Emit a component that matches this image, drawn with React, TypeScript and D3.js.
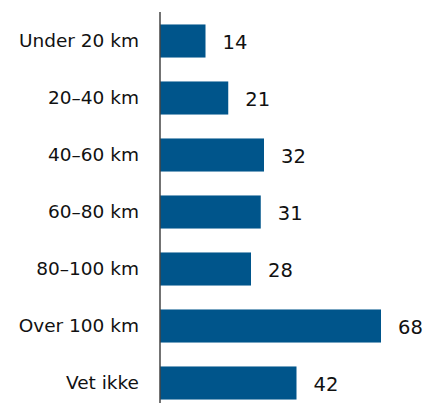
import { useRef, useEffect } from 'react';
import * as d3 from 'd3';

const categories = ['Under 20 km', '20–40 km', '40–60 km', '60–80 km', '80–100 km', 'Over 100 km', 'Vet ikke'];
const values = [14, 21, 32, 31, 28, 68, 42];

const W = 425;
const H = 403;

const App = () => {
  const ref = useRef<SVGSVGElement>(null);

  useEffect(() => {
    const svg = d3.select(ref.current);
    svg.selectAll('*').remove();

    const x0 = 160;
    const x = d3.scaleLinear().domain([0, 68]).range([x0, 381]);
    const y = d3.scaleBand<string>()
      .domain(categories)
      .range([12.5, 411.5])
      .paddingInner(0.42)
      .paddingOuter(0.21);

    const rows = categories.map((c, i) => ({ c, v: values[i] }));

    svg.append('g')
      .selectAll('rect')
      .data(rows)
      .enter()
      .append('rect')
      .attr('x', x0)
      .attr('y', d => y(d.c)!)
      .attr('width', d => x(d.v) - x0)
      .attr('height', y.bandwidth())
      .attr('fill', '#00558b');

    svg.append('line')
      .attr('x1', x0).attr('x2', x0)
      .attr('y1', 12).attr('y2', H)
      .attr('stroke', '#444')
      .attr('stroke-width', 1.5);

    svg.append('g')
      .selectAll('text')
      .data(rows)
      .enter()
      .append('text')
      .attr('x', 139)
      .attr('y', d => y(d.c)! + y.bandwidth() / 2)
      .attr('dy', '0.35em')
      .attr('text-anchor', 'end')
      .attr('font-size', 18.5)
      .attr('fill', '#111')
      .text(d => d.c);

    svg.append('g')
      .selectAll('text')
      .data(rows)
      .enter()
      .append('text')
      .attr('x', d => x(d.v) + 17)
      .attr('y', d => y(d.c)! + y.bandwidth() / 2)
      .attr('dy', '0.42em')
      .attr('font-size', 19.5)
      .attr('fill', '#111')
      .text(d => d.v);
  }, []);

  return (
    <svg
      ref={ref}
      width={W}
      height={H}
      style={{ position: 'absolute', left: 0, top: 0, fontFamily: '"DejaVu Sans", sans-serif', background: '#fff' }}
    ></svg>
  );
};

export default App;
